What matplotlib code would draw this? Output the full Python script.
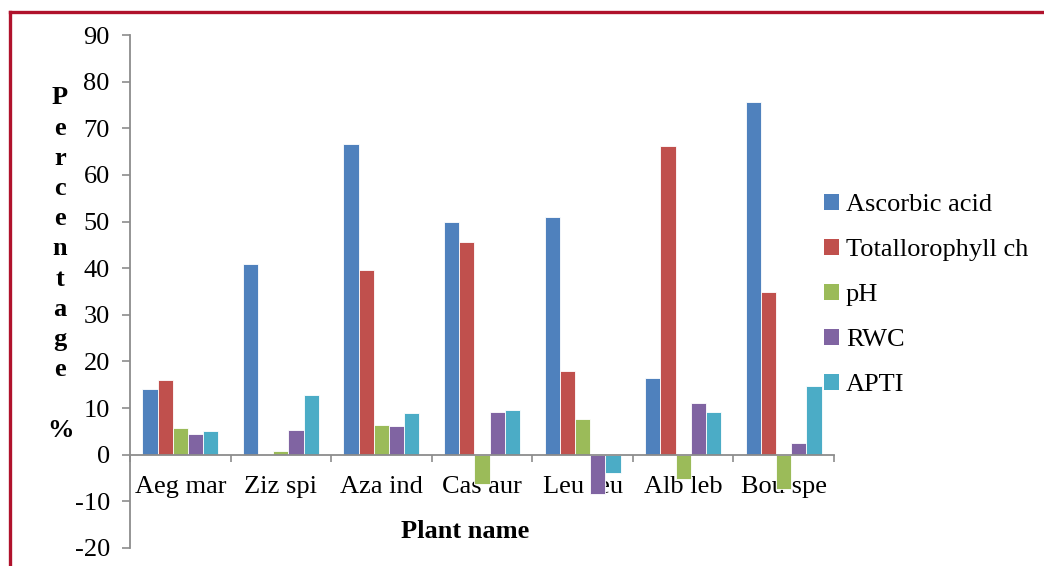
import matplotlib
matplotlib.use("Agg")
import matplotlib.pyplot as plt
import numpy as np
from matplotlib.patches import Rectangle
from matplotlib.lines import Line2D

plants = ["Aeg mar", "Ziz spi", "Aza ind", "Cas aur", "Leu leu", "Alb leb", "Bou spe"]
series_names = ["Ascorbic acid", "Totallorophyll ch", "pH", "RWC", "APTI"]
ascorbic = [14.1, 41.0, 66.6, 49.9, 51.0, 16.5, 75.7]
chlorophyll = [16.1, 0.0, 39.6, 45.6, 17.9, 66.1, 34.9]
ph = [5.7, 0.9, 6.4, -6.3, 7.7, -5.2, -7.3]
rwc = [4.4, 5.4, 6.1, 9.1, -8.5, 11.0, 2.6]
apti = [5.1, 12.8, 8.9, 9.6, -3.9, 9.1, 14.7]
series = [ascorbic, chlorophyll, ph, rwc, apti]
colors = ["#4F81BD", "#C0504D", "#9BBB59", "#8064A2", "#4BACC6"]

plt.rcParams['font.family'] = ['Liberation Serif', 'DejaVu Serif']
plt.rcParams['axes.unicode_minus'] = False

fig = plt.figure(figsize=(10.44, 5.66), dpi=100)
ax = fig.add_axes([130/1044, 1-548/566, (834-130)/1044, (548-35)/566])

x = np.arange(len(plants))
w = 0.151
for i, (vals, c) in enumerate(zip(series, colors)):
    ax.bar(x + (i - 2) * w, vals, width=w, color=c, edgecolor='white',
           linewidth=0.6, label=series_names[i], zorder=2)

ax.set_xlim(-0.5, len(plants) - 0.5)
ax.set_ylim(-20, 90)
ax.set_yticks(np.arange(-20, 91, 10))
ax.set_xticks(x)
ax.set_xticklabels(plants)
ax.set_xticks(np.arange(-0.5, len(plants), 1.0), minor=True)

gray = '#8C8C8C'
for s in ['top', 'right']:
    ax.spines[s].set_visible(False)
ax.spines['bottom'].set_position(('data', 0))
ax.spines['bottom'].set_color(gray)
ax.spines['left'].set_color(gray)
ax.spines['bottom'].set_linewidth(1.3)
ax.spines['left'].set_linewidth(1.3)
ax.spines['bottom'].set_zorder(3)

ax.tick_params(axis='y', direction='out', length=5.5, width=1.2, color=gray,
               labelsize=19, pad=9)
ax.tick_params(axis='x', which='major', length=0, labelsize=19, pad=15)
ax.tick_params(axis='x', which='minor', direction='out', length=5, width=1.2, color=gray)
for lab in ax.get_xticklabels():
    lab.set_zorder(1)

# y label: stacked letters
fig.text(60/1044, 1-264/566, "P\ne\nr\nc\ne\nn\nt\na\ng\ne\n\n%", ha='center', va='center',
         fontsize=19, fontweight='bold', linespacing=1.40)
fig.text(465/1044, 1-531/566, "Plant name", ha='center', va='center',
         fontsize=19, fontweight='bold')

handles = [Rectangle((0, 0), 1, 1, facecolor=c, edgecolor='none') for c in colors]
fig.legend(handles, series_names, loc='center left', bbox_to_anchor=(824/1044, 1-295/566),
           frameon=False, fontsize=19, handlelength=0.55, handleheight=0.55,
           handletextpad=0.28, labelspacing=0.86, borderpad=0, borderaxespad=0)

# red frame (left and top)
fig.add_artist(Line2D([9.5/1044, 9.5/1044], [0, 1-12/566], color='#B0122C', linewidth=2.4,
                      transform=fig.transFigure))
fig.add_artist(Line2D([9.5/1044, 1], [1-12/566, 1-12/566], color='#B0122C', linewidth=2.4,
                      transform=fig.transFigure))

fig.savefig("out.png", dpi=100)
